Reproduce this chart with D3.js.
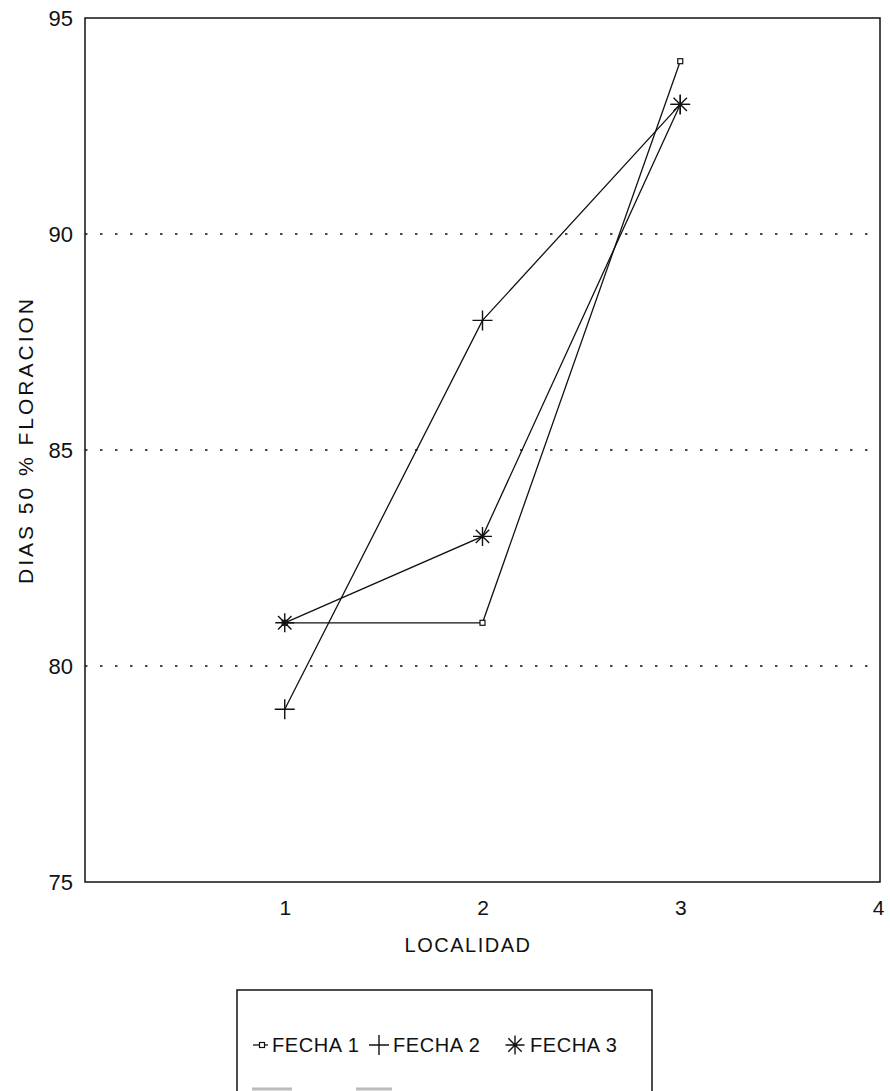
<!DOCTYPE html>
<html>
<head>
<meta charset="utf-8">
<script src="https://cdn.jsdelivr.net/npm/d3@7"></script>
<style>
  html, body { margin: 0; padding: 0; background: #fff; }
  svg { display: block; font-family: "Liberation Sans", Arial, sans-serif; }
</style>
</head>
<body>
<svg id="chart" width="890" height="1091"></svg>
<script>
// Days to 50 % flowering per locality, for three planting dates
const localidades = [1, 2, 3];
const fecha1 = [81, 81, 94];
const fecha2 = [79, 88, 93];
const fecha3 = [81, 83, 93];
const seriesNames = ["FECHA 1", "FECHA 2", "FECHA 3"];
const xTicks = [1, 2, 3, 4];
const yTicks = [75, 80, 85, 90, 95];
const gridValues = [80, 85, 90];

const svg = d3.select("#chart");
const plotLeft = 85, plotRight = 880, plotTop = 18, plotBottom = 882;

const x = d3.scaleLinear().domain([0, 4]).range([87, 878]);
const y = d3.scaleLinear().domain([75, 95]).range([plotBottom, plotTop]);

// dotted horizontal grid
svg.append("g").selectAll("line").data(gridValues).join("line")
  .attr("x1", plotLeft).attr("x2", plotRight)
  .attr("y1", d => y(d)).attr("y2", d => y(d))
  .attr("stroke", "#111").attr("stroke-width", 1.6)
  .attr("stroke-dasharray", "2.5,12.5");

// frame
svg.append("rect")
  .attr("x", plotLeft).attr("y", plotTop)
  .attr("width", plotRight - plotLeft).attr("height", plotBottom - plotTop)
  .attr("fill", "none").attr("stroke", "#111").attr("stroke-width", 1.5);

// y axis labels
const yAxis = d3.axisLeft(y).tickValues(yTicks).tickFormat(d3.format("d"))
  .tickSize(0).tickPadding(12);
svg.append("g").attr("transform", `translate(${plotLeft},0)`).call(yAxis)
  .call(g => g.select(".domain").remove())
  .selectAll("text")
  .attr("font-size", 22).attr("fill", "#111")
  .attr("font-family", "Liberation Sans, Arial, sans-serif");

// x axis labels
const xAxis = d3.axisBottom(x).tickValues(xTicks).tickFormat(d3.format("d"))
  .tickSize(0).tickPadding(18);
svg.append("g").attr("transform", `translate(0,${plotBottom})`).call(xAxis)
  .call(g => g.select(".domain").remove())
  .selectAll("text")
  .attr("font-size", 21).attr("fill", "#111")
  .attr("font-family", "Liberation Sans, Arial, sans-serif");

// axis titles
svg.append("text")
  .attr("x", 468).attr("y", 952)
  .attr("text-anchor", "middle")
  .attr("font-size", 20).attr("letter-spacing", 1.5).attr("fill", "#111")
  .text("LOCALIDAD");

svg.append("text")
  .attr("transform", "translate(33,440) rotate(-90)")
  .attr("text-anchor", "middle")
  .attr("font-size", 21).attr("letter-spacing", 3).attr("fill", "#111")
  .text("DIAS 50 % FLORACION");

// series
const series = [fecha1, fecha2, fecha3].map((vals, i) => ({
  name: seriesNames[i],
  idx: i,
  pts: localidades.map((l, j) => ({ l, v: vals[j] }))
}));

const line = d3.line().x(d => x(d.l)).y(d => y(d.v));

svg.append("g").selectAll("path").data(series).join("path")
  .attr("d", d => line(d.pts))
  .attr("fill", "none").attr("stroke", "#111").attr("stroke-width", 1.3);

// marker drawing helper: open square, plus, asterisk
function drawMarker(g, idx, cx, cy) {
  if (idx === 0) {
    g.append("rect").attr("x", cx - 2.5).attr("y", cy - 2.5)
      .attr("width", 5).attr("height", 5)
      .attr("fill", "#fff").attr("stroke", "#111").attr("stroke-width", 1.2);
  } else if (idx === 1) {
    const r = 10;
    g.append("path")
      .attr("d", `M${cx - r},${cy}H${cx + r}M${cx},${cy - r}V${cy + r}`)
      .attr("stroke", "#111").attr("stroke-width", 1.4).attr("fill", "none");
  } else {
    const r = 9.5;
    let d = "";
    for (let k = 0; k < 4; k++) {
      const a = k * Math.PI / 4;
      d += `M${cx - r * Math.cos(a)},${cy - r * Math.sin(a)}L${cx + r * Math.cos(a)},${cy + r * Math.sin(a)}`;
    }
    g.append("path").attr("d", d)
      .attr("stroke", "#111").attr("stroke-width", 1.4).attr("fill", "none");
  }
}

const markers = svg.append("g");
series.forEach(s => {
  s.pts.forEach(p => drawMarker(markers, s.idx, x(p.l), y(p.v)));
});

// legend
const lg = svg.append("g");
lg.append("rect")
  .attr("x", 237).attr("y", 990).attr("width", 415).attr("height", 140)
  .attr("fill", "none").attr("stroke", "#111").attr("stroke-width", 1.5);

const legendItems = [
  { idx: 0, sx: 262, tx: 272 },
  { idx: 1, sx: 379, tx: 393 },
  { idx: 2, sx: 515, tx: 530 }
];
const ly = 1052;
legendItems.forEach(it => {
  if (it.idx === 0) {
    lg.append("line").attr("x1", it.sx - 9).attr("x2", it.sx + 6)
      .attr("y1", ly - 7).attr("y2", ly - 7)
      .attr("stroke", "#111").attr("stroke-width", 1.3);
  }
  drawMarker(lg, it.idx, it.sx, ly - 7);
  lg.append("text").attr("x", it.tx).attr("y", ly)
    .attr("font-size", 20).attr("letter-spacing", 0.6).attr("fill", "#111")
    .text(seriesNames[it.idx]);
});

// next legend row, faded and clipped by the page edge
[[252, 292], [356, 392]].forEach(([a, b]) => {
  lg.append("line").attr("x1", a).attr("x2", b)
    .attr("y1", 1089).attr("y2", 1089)
    .attr("stroke", "#bbb").attr("stroke-width", 3);
});
</script>
</body>
</html>
